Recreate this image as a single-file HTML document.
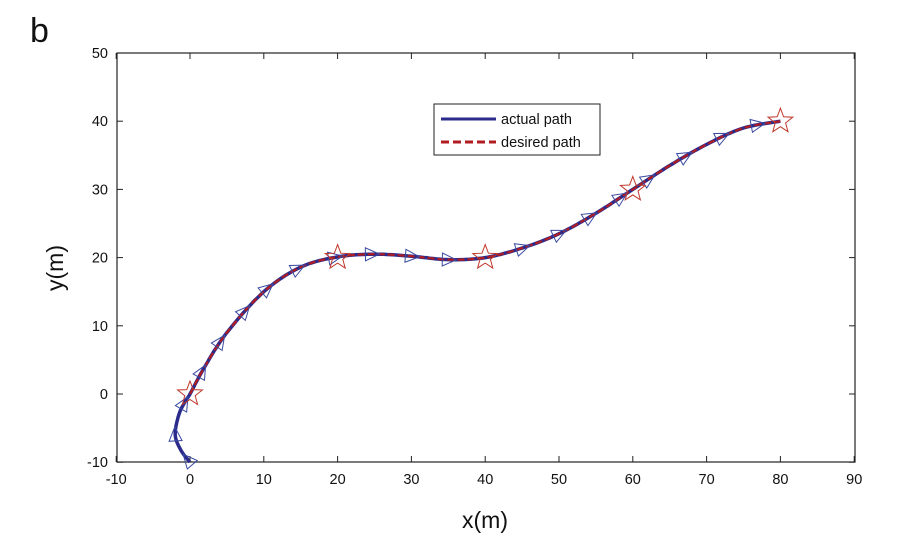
<!DOCTYPE html>
<html><head><meta charset="utf-8"><style>
body{margin:0;background:#fff}
svg text{font-family:"Liberation Sans",Arial,sans-serif;fill:#111}
</style></head><body>
<svg id="s" width="900" height="543" viewBox="0 0 900 543" xmlns="http://www.w3.org/2000/svg">
<rect width="900" height="543" fill="#fff"/>
<text x="30" y="42" font-size="34">b</text>
<rect x="117" y="53" width="738" height="409" fill="none" stroke="#222" stroke-width="1.2"/>
<g id="ticks" stroke="#222" stroke-width="1"></g>
<g id="labels" font-size="14.5"></g>
<text x="485" y="528" font-size="23" text-anchor="middle">x(m)</text>
<text transform="translate(63,268) rotate(-90)" font-size="23" text-anchor="middle">y(m)</text>
<g id="plot"></g>
<rect x="434" y="104" width="166" height="51" fill="#fff" stroke="#222" stroke-width="1"/>
<line x1="441" y1="119" x2="496" y2="119" stroke="#2b2b8c" stroke-width="3"/>
<text x="501" y="124" font-size="14.5">actual path</text>
<line x1="441" y1="142" x2="496" y2="142" stroke="#b01c22" stroke-width="3" stroke-dasharray="8,4"/>
<text x="501" y="147" font-size="14.5">desired path</text>
</svg>
<script>
const NS="http://www.w3.org/2000/svg";
const X=x=>190+7.38*x, Y=y=>394-6.82*y;
function el(t,a,p){const e=document.createElementNS(NS,t);for(const k in a)e.setAttribute(k,a[k]);p.appendChild(e);return e;}
const tk=document.getElementById('ticks'),lb=document.getElementById('labels');
for(let v=-10;v<=90;v+=10){const px=X(v);el('line',{x1:px,y1:462,x2:px,y2:456},tk);el('line',{x1:px,y1:53,x2:px,y2:59},tk);
 const t=el('text',{x:px,y:484,'text-anchor':'middle'},lb);t.textContent=v;}
for(let v=-10;v<=50;v+=10){const py=Y(v);el('line',{x1:117,y1:py,x2:123,y2:py},tk);el('line',{x1:855,y1:py,x2:849,y2:py},tk);
 const t=el('text',{x:108,y:py+5,'text-anchor':'end'},lb);t.textContent=v;}
function cr(pts,n){const out=[];for(let i=0;i<pts.length-1;i++){const p0=pts[Math.max(0,i-1)],p1=pts[i],p2=pts[i+1],p3=pts[Math.min(pts.length-1,i+2)];
 for(let j=0;j<n;j++){const t=j/n,t2=t*t,t3=t2*t;out.push([0,1].map(k=>0.5*((2*p1[k])+(-p0[k]+p2[k])*t+(2*p0[k]-5*p1[k]+4*p2[k]-p3[k])*t2+(-p0[k]+3*p1[k]-3*p2[k]+p3[k])*t3)));}}
 out.push(pts[pts.length-1]);return out;}
const des=[[0,0],[2,4],[5,9],[10,15],[15,18.6],[20,20.1],[25,20.5],[30,20.2],[35,19.7],[40,20],[45,21.4],[50,23.5],[55,26.5],[60,30],[65,33.5],[70,36.6],[75,39],[80,40]];
const act=[[0,-10],[-1.2,-8.3],[-2,-6],[-1.5,-3],[-0.6,-1],[0,0]].concat(des.slice(1));
const P=document.getElementById('plot');
const toS=a=>a.map(p=>X(p[0]).toFixed(1)+','+Y(p[1]).toFixed(1)).join(' ');
const A=cr(act,12),D=cr(des,12);
el('polyline',{points:toS(A),fill:'none',stroke:'#2b2b8c','stroke-width':3.5},P);
el('polyline',{points:toS(D),fill:'none',stroke:'#b01c22','stroke-width':2.2,'stroke-dasharray':'7,3'},P);
const tri=[[0,-9.5],[-2,-6],[-0.5,-1.5],[1.5,3.5],[4,7.5],[7,12],[10,15.5],[14.5,18.5],[19.5,20],[24.5,20.5],[30,20.2],[35,19.7],[45,21.5],[50,23.5],[54,26],[58,29],[62,32],[67,35],[72,37.5],[77,39.5]];
tri.forEach(q=>{let best=0,bd=1e9;A.forEach((p,i)=>{const d=(p[0]-q[0])**2+(p[1]-q[1])**2;if(d<bd){bd=d;best=i;}});
 const p=A[best],n=A[Math.min(A.length-1,best+1)],pr=A[Math.max(0,best-1)];
 const cx=X(p[0]),cy=Y(p[1]);const ang=Math.atan2(Y(n[1])-Y(pr[1]),X(n[0])-X(pr[0]))*180/Math.PI;
 el('polygon',{points:'8,0 -6,-6.5 -6,6.5',fill:'none',stroke:'#3a4aa0','stroke-width':1,transform:`translate(${cx},${cy}) rotate(${ang})`},P);});
[[0,0],[20,20],[40,20],[60,30],[80,40]].forEach(s=>{const cx=X(s[0]),cy=Y(s[1]);let pts=[];
 for(let i=0;i<10;i++){const r=i%2?5.5:13,a=-Math.PI/2+i*Math.PI/5;pts.push((cx+r*Math.cos(a)).toFixed(1)+','+(cy+r*Math.sin(a)).toFixed(1));}
 el('polygon',{points:pts.join(' '),fill:'none',stroke:'#c0392b','stroke-width':1},P);});
</script>
</body></html>
